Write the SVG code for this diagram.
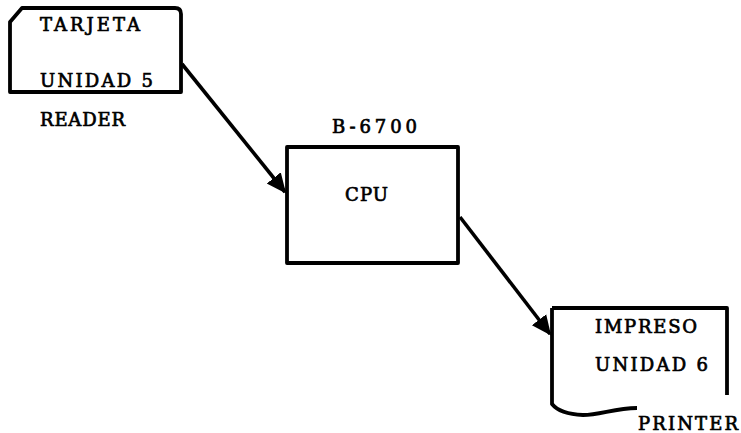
<svg xmlns="http://www.w3.org/2000/svg" width="741" height="433" viewBox="0 0 741 433">
<style>
.shape{fill:none;stroke:#000;stroke-width:3.8;stroke-linejoin:round}
.lbl{font-family:"DejaVu Serif","Liberation Serif",serif;font-size:18px;fill:#000;stroke:#000;stroke-width:0.7}
.conn{fill:none;stroke:#000;stroke-width:3.6}
</style>
<defs>
<marker id="ah" markerWidth="6" markerHeight="6" refX="5" refY="3" orient="auto" markerUnits="strokeWidth">
<path d="M0,0.5 L5.5,3 L0,5.5 Z" fill="#000"/>
</marker>
</defs>
<rect width="741" height="433" fill="#fff"/>
<g id="reader">
<path class="shape" d="M10,22 L22,8 L175,8 Q181,8 181,14 L181,92 L10,92 Z"/>
<text class="lbl" x="40" y="31" textLength="100" lengthAdjust="spacing">TARJETA</text>
<text class="lbl" x="40" y="87" textLength="113" lengthAdjust="spacing">UNIDAD 5</text>
<text class="lbl" x="40" y="126" textLength="85" lengthAdjust="spacing">READER</text>
</g>
<g id="cpu">
<rect class="shape" x="287" y="147" width="171" height="116"/>
<text class="lbl" x="332" y="133" textLength="85" lengthAdjust="spacing">B-6700</text>
<text class="lbl" x="345" y="201" textLength="43" lengthAdjust="spacing">CPU</text>
</g>
<g id="printer">
<path class="shape" d="M552,308 L727,308 L727,395 M552,308 L552,404 Q560,414 583,415 C600,415 615,408 637,408"/>
<text class="lbl" x="595" y="333" textLength="102" lengthAdjust="spacing">IMPRESO</text>
<text class="lbl" x="595" y="371" textLength="113" lengthAdjust="spacing">UNIDAD 6</text>
<text class="lbl" x="638" y="430" textLength="100" lengthAdjust="spacing">PRINTER</text>
</g>
<g id="connectors">
<line class="conn" x1="182" y1="64" x2="285" y2="192" marker-end="url(#ah)"/>
<line class="conn" x1="460" y1="217" x2="550" y2="334" marker-end="url(#ah)"/>
</g>
</svg>
